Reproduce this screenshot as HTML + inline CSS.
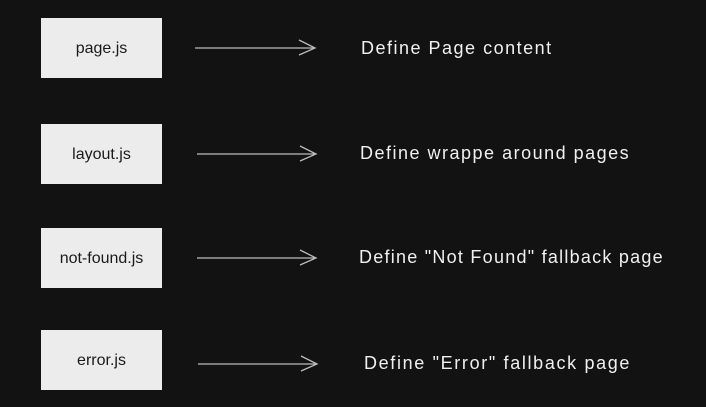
<!DOCTYPE html>
<html><head><style>
html,body{margin:0;padding:0;background:#121212;}
body{width:706px;height:407px;position:relative;overflow:hidden;font-family:"Liberation Sans",sans-serif;}
.b{position:absolute;left:41px;width:121px;height:60px;background:#ececec;color:#1a1a1a;font-size:16px;display:flex;align-items:center;justify-content:center;letter-spacing:0px;padding-top:2px;box-sizing:border-box;}
.t{position:absolute;color:#f0f0f0;font-size:18px;white-space:nowrap;letter-spacing:1.5px;}
svg{position:absolute;left:0;top:0;}
</style></head><body>
<div class="b" style="top:18px">page.js</div>
<div class="b" style="top:124px">layout.js</div>
<div class="b" style="top:228px">not-found.js</div>
<div class="b" style="top:330px">error.js</div>
<svg width="706" height="407" stroke="#bbbbbb" stroke-width="1.3" fill="none">
<path d="M195 48H315M299 40L315 48L299 55"/>
<path d="M197 154H316M300 146L316 154L300 161"/>
<path d="M197 258H316M300 250L316 258L300 265"/>
<path d="M198 364H317M301 356L317 364L301 371"/>
</svg>
<div class="t" style="left:361px;top:38px">Define Page content</div>
<div class="t" style="left:360px;top:143px">Define wrappe around pages</div>
<div class="t" style="left:359px;top:247px;letter-spacing:1.25px">Define "Not Found" fallback page</div>
<div class="t" style="left:364px;top:353px;letter-spacing:1.65px">Define "Error" fallback page</div>
</body></html>
